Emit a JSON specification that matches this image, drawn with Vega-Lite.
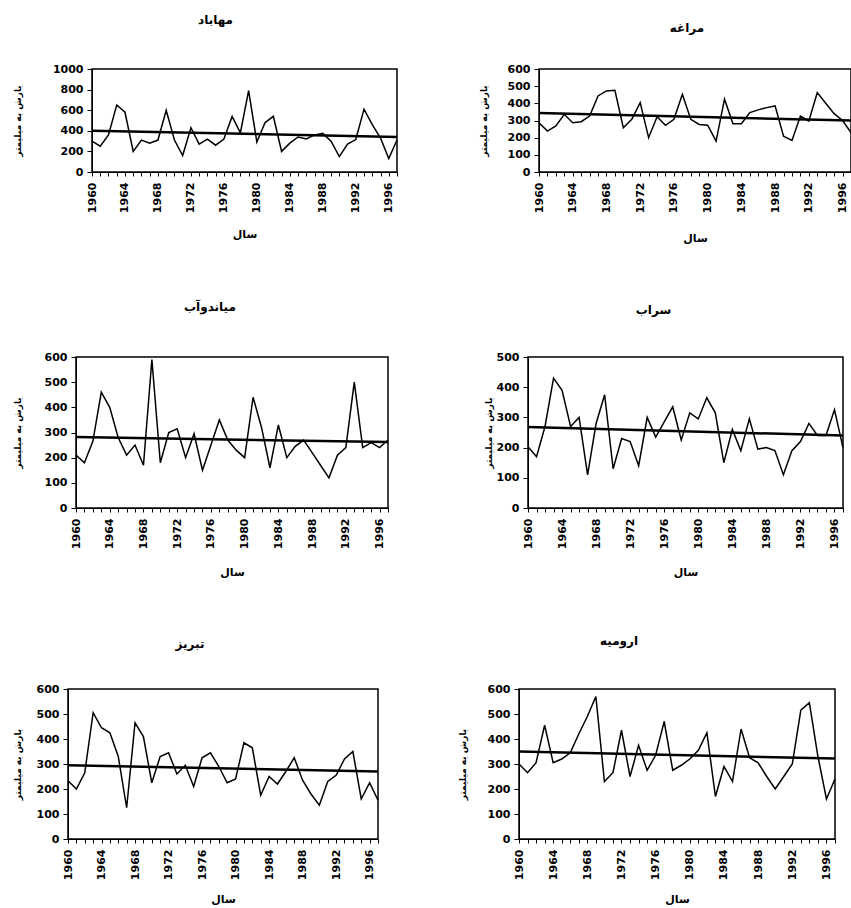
{
  "$schema": "https://vega.github.io/schema/vega-lite/v6.json",
  "background": "white",
  "padding": {"left": 11, "top": 13, "right": 0, "bottom": 0},
  "config": {
    "font": "DejaVu Sans",
    "view": {"stroke": "black", "strokeWidth": 1.5},
    "axis": {"grid": false, "domainColor": "black", "tickColor": "black", "labelColor": "black", "titleColor": "black", "labelFont": "DejaVu Sans", "titleFont": "DejaVu Sans", "labelFontWeight": "bold", "titleFontWeight": "bold", "labelOverlap": false},
    "axisX": {"labelAngle": -90, "labelFontSize": 11, "tickSize": 4, "labelPadding": 6, "labelFlush": false, "titleFontSize": 11, "titlePadding": 16, "format": "d", "labelExpr": "datum.value % 4 === 0 ? datum.label : ''"},
    "axisY": {"labelFontSize": 11, "tickSize": 5, "labelPadding": 4, "titleFontSize": 9, "format": "d"},
    "title": {"fontSize": 12, "fontWeight": "bold", "font": "DejaVu Sans", "color": "black"}
  },
  "datasets": {
    "rain": [
      {"station":"Mahabad","year":1960,"precip":300},{"station":"Mahabad","year":1961,"precip":250},{"station":"Mahabad","year":1962,"precip":360},{"station":"Mahabad","year":1963,"precip":650},{"station":"Mahabad","year":1964,"precip":580},{"station":"Mahabad","year":1965,"precip":200},{"station":"Mahabad","year":1966,"precip":310},{"station":"Mahabad","year":1967,"precip":280},{"station":"Mahabad","year":1968,"precip":310},{"station":"Mahabad","year":1969,"precip":600},
      {"station":"Mahabad","year":1970,"precip":310},{"station":"Mahabad","year":1971,"precip":160},{"station":"Mahabad","year":1972,"precip":430},{"station":"Mahabad","year":1973,"precip":270},{"station":"Mahabad","year":1974,"precip":320},{"station":"Mahabad","year":1975,"precip":260},{"station":"Mahabad","year":1976,"precip":320},{"station":"Mahabad","year":1977,"precip":540},{"station":"Mahabad","year":1978,"precip":380},{"station":"Mahabad","year":1979,"precip":790},
      {"station":"Mahabad","year":1980,"precip":290},{"station":"Mahabad","year":1981,"precip":480},{"station":"Mahabad","year":1982,"precip":540},{"station":"Mahabad","year":1983,"precip":200},{"station":"Mahabad","year":1984,"precip":280},{"station":"Mahabad","year":1985,"precip":340},{"station":"Mahabad","year":1986,"precip":320},{"station":"Mahabad","year":1987,"precip":360},{"station":"Mahabad","year":1988,"precip":375},{"station":"Mahabad","year":1989,"precip":300},
      {"station":"Mahabad","year":1990,"precip":150},{"station":"Mahabad","year":1991,"precip":270},{"station":"Mahabad","year":1992,"precip":315},{"station":"Mahabad","year":1993,"precip":610},{"station":"Mahabad","year":1994,"precip":460},{"station":"Mahabad","year":1995,"precip":330},{"station":"Mahabad","year":1996,"precip":130},{"station":"Mahabad","year":1997,"precip":310},

      {"station":"Maragheh","year":1960,"precip":287},{"station":"Maragheh","year":1961,"precip":238},{"station":"Maragheh","year":1962,"precip":268},{"station":"Maragheh","year":1963,"precip":336},{"station":"Maragheh","year":1964,"precip":287},{"station":"Maragheh","year":1965,"precip":293},{"station":"Maragheh","year":1966,"precip":326},{"station":"Maragheh","year":1967,"precip":443},{"station":"Maragheh","year":1968,"precip":472},{"station":"Maragheh","year":1969,"precip":476},
      {"station":"Maragheh","year":1970,"precip":258},{"station":"Maragheh","year":1971,"precip":307},{"station":"Maragheh","year":1972,"precip":404},{"station":"Maragheh","year":1973,"precip":200},{"station":"Maragheh","year":1974,"precip":322},{"station":"Maragheh","year":1975,"precip":272},{"station":"Maragheh","year":1976,"precip":307},{"station":"Maragheh","year":1977,"precip":453},{"station":"Maragheh","year":1978,"precip":307},{"station":"Maragheh","year":1979,"precip":277},
      {"station":"Maragheh","year":1980,"precip":273},{"station":"Maragheh","year":1981,"precip":180},{"station":"Maragheh","year":1982,"precip":424},{"station":"Maragheh","year":1983,"precip":281},{"station":"Maragheh","year":1984,"precip":281},{"station":"Maragheh","year":1985,"precip":346},{"station":"Maragheh","year":1986,"precip":362},{"station":"Maragheh","year":1987,"precip":375},{"station":"Maragheh","year":1988,"precip":385},{"station":"Maragheh","year":1989,"precip":209},
      {"station":"Maragheh","year":1990,"precip":184},{"station":"Maragheh","year":1991,"precip":326},{"station":"Maragheh","year":1992,"precip":297},{"station":"Maragheh","year":1993,"precip":463},{"station":"Maragheh","year":1994,"precip":400},{"station":"Maragheh","year":1995,"precip":340},{"station":"Maragheh","year":1996,"precip":300},{"station":"Maragheh","year":1997,"precip":230},

      {"station":"Miandoab","year":1960,"precip":210},{"station":"Miandoab","year":1961,"precip":180},{"station":"Miandoab","year":1962,"precip":265},{"station":"Miandoab","year":1963,"precip":460},{"station":"Miandoab","year":1964,"precip":400},{"station":"Miandoab","year":1965,"precip":280},{"station":"Miandoab","year":1966,"precip":210},{"station":"Miandoab","year":1967,"precip":250},{"station":"Miandoab","year":1968,"precip":170},{"station":"Miandoab","year":1969,"precip":590},
      {"station":"Miandoab","year":1970,"precip":180},{"station":"Miandoab","year":1971,"precip":300},{"station":"Miandoab","year":1972,"precip":315},{"station":"Miandoab","year":1973,"precip":200},{"station":"Miandoab","year":1974,"precip":295},{"station":"Miandoab","year":1975,"precip":150},{"station":"Miandoab","year":1976,"precip":250},{"station":"Miandoab","year":1977,"precip":350},{"station":"Miandoab","year":1978,"precip":270},{"station":"Miandoab","year":1979,"precip":230},
      {"station":"Miandoab","year":1980,"precip":200},{"station":"Miandoab","year":1981,"precip":440},{"station":"Miandoab","year":1982,"precip":320},{"station":"Miandoab","year":1983,"precip":160},{"station":"Miandoab","year":1984,"precip":330},{"station":"Miandoab","year":1985,"precip":200},{"station":"Miandoab","year":1986,"precip":245},{"station":"Miandoab","year":1987,"precip":270},{"station":"Miandoab","year":1988,"precip":220},{"station":"Miandoab","year":1989,"precip":170},
      {"station":"Miandoab","year":1990,"precip":120},{"station":"Miandoab","year":1991,"precip":210},{"station":"Miandoab","year":1992,"precip":240},{"station":"Miandoab","year":1993,"precip":500},{"station":"Miandoab","year":1994,"precip":240},{"station":"Miandoab","year":1995,"precip":260},{"station":"Miandoab","year":1996,"precip":240},{"station":"Miandoab","year":1997,"precip":270},

      {"station":"Sarab","year":1960,"precip":203},{"station":"Sarab","year":1961,"precip":170},{"station":"Sarab","year":1962,"precip":270},{"station":"Sarab","year":1963,"precip":430},{"station":"Sarab","year":1964,"precip":390},{"station":"Sarab","year":1965,"precip":270},{"station":"Sarab","year":1966,"precip":300},{"station":"Sarab","year":1967,"precip":110},{"station":"Sarab","year":1968,"precip":280},{"station":"Sarab","year":1969,"precip":375},
      {"station":"Sarab","year":1970,"precip":130},{"station":"Sarab","year":1971,"precip":230},{"station":"Sarab","year":1972,"precip":220},{"station":"Sarab","year":1973,"precip":140},{"station":"Sarab","year":1974,"precip":300},{"station":"Sarab","year":1975,"precip":235},{"station":"Sarab","year":1976,"precip":285},{"station":"Sarab","year":1977,"precip":335},{"station":"Sarab","year":1978,"precip":225},{"station":"Sarab","year":1979,"precip":315},
      {"station":"Sarab","year":1980,"precip":295},{"station":"Sarab","year":1981,"precip":365},{"station":"Sarab","year":1982,"precip":315},{"station":"Sarab","year":1983,"precip":150},{"station":"Sarab","year":1984,"precip":260},{"station":"Sarab","year":1985,"precip":190},{"station":"Sarab","year":1986,"precip":295},{"station":"Sarab","year":1987,"precip":195},{"station":"Sarab","year":1988,"precip":200},{"station":"Sarab","year":1989,"precip":190},
      {"station":"Sarab","year":1990,"precip":110},{"station":"Sarab","year":1991,"precip":190},{"station":"Sarab","year":1992,"precip":220},{"station":"Sarab","year":1993,"precip":280},{"station":"Sarab","year":1994,"precip":240},{"station":"Sarab","year":1995,"precip":240},{"station":"Sarab","year":1996,"precip":325},{"station":"Sarab","year":1997,"precip":200},

      {"station":"Tabriz","year":1960,"precip":233},{"station":"Tabriz","year":1961,"precip":200},{"station":"Tabriz","year":1962,"precip":265},{"station":"Tabriz","year":1963,"precip":505},{"station":"Tabriz","year":1964,"precip":445},{"station":"Tabriz","year":1965,"precip":425},{"station":"Tabriz","year":1966,"precip":330},{"station":"Tabriz","year":1967,"precip":125},{"station":"Tabriz","year":1968,"precip":465},{"station":"Tabriz","year":1969,"precip":410},
      {"station":"Tabriz","year":1970,"precip":225},{"station":"Tabriz","year":1971,"precip":330},{"station":"Tabriz","year":1972,"precip":345},{"station":"Tabriz","year":1973,"precip":260},{"station":"Tabriz","year":1974,"precip":295},{"station":"Tabriz","year":1975,"precip":210},{"station":"Tabriz","year":1976,"precip":325},{"station":"Tabriz","year":1977,"precip":345},{"station":"Tabriz","year":1978,"precip":290},{"station":"Tabriz","year":1979,"precip":225},
      {"station":"Tabriz","year":1980,"precip":240},{"station":"Tabriz","year":1981,"precip":385},{"station":"Tabriz","year":1982,"precip":365},{"station":"Tabriz","year":1983,"precip":175},{"station":"Tabriz","year":1984,"precip":250},{"station":"Tabriz","year":1985,"precip":220},{"station":"Tabriz","year":1986,"precip":270},{"station":"Tabriz","year":1987,"precip":325},{"station":"Tabriz","year":1988,"precip":235},{"station":"Tabriz","year":1989,"precip":180},
      {"station":"Tabriz","year":1990,"precip":135},{"station":"Tabriz","year":1991,"precip":230},{"station":"Tabriz","year":1992,"precip":255},{"station":"Tabriz","year":1993,"precip":320},{"station":"Tabriz","year":1994,"precip":350},{"station":"Tabriz","year":1995,"precip":160},{"station":"Tabriz","year":1996,"precip":225},{"station":"Tabriz","year":1997,"precip":155},

      {"station":"Urmia","year":1960,"precip":300},{"station":"Urmia","year":1961,"precip":265},{"station":"Urmia","year":1962,"precip":305},{"station":"Urmia","year":1963,"precip":455},{"station":"Urmia","year":1964,"precip":305},{"station":"Urmia","year":1965,"precip":320},{"station":"Urmia","year":1966,"precip":345},{"station":"Urmia","year":1967,"precip":420},{"station":"Urmia","year":1968,"precip":490},{"station":"Urmia","year":1969,"precip":570},
      {"station":"Urmia","year":1970,"precip":230},{"station":"Urmia","year":1971,"precip":265},{"station":"Urmia","year":1972,"precip":435},{"station":"Urmia","year":1973,"precip":250},{"station":"Urmia","year":1974,"precip":375},{"station":"Urmia","year":1975,"precip":275},{"station":"Urmia","year":1976,"precip":335},{"station":"Urmia","year":1977,"precip":470},{"station":"Urmia","year":1978,"precip":275},{"station":"Urmia","year":1979,"precip":295},
      {"station":"Urmia","year":1980,"precip":320},{"station":"Urmia","year":1981,"precip":355},{"station":"Urmia","year":1982,"precip":425},{"station":"Urmia","year":1983,"precip":170},{"station":"Urmia","year":1984,"precip":290},{"station":"Urmia","year":1985,"precip":230},{"station":"Urmia","year":1986,"precip":440},{"station":"Urmia","year":1987,"precip":325},{"station":"Urmia","year":1988,"precip":305},{"station":"Urmia","year":1989,"precip":250},
      {"station":"Urmia","year":1990,"precip":200},{"station":"Urmia","year":1991,"precip":250},{"station":"Urmia","year":1992,"precip":300},{"station":"Urmia","year":1993,"precip":515},{"station":"Urmia","year":1994,"precip":545},{"station":"Urmia","year":1995,"precip":330},{"station":"Urmia","year":1996,"precip":160},{"station":"Urmia","year":1997,"precip":240}
    ],
    "trend": [
      {"station":"Mahabad","year":1960,"precip":400},{"station":"Mahabad","year":1997,"precip":340},
      {"station":"Maragheh","year":1960,"precip":343},{"station":"Maragheh","year":1997,"precip":300},
      {"station":"Miandoab","year":1960,"precip":282},{"station":"Miandoab","year":1997,"precip":262},
      {"station":"Sarab","year":1960,"precip":268},{"station":"Sarab","year":1997,"precip":240},
      {"station":"Tabriz","year":1960,"precip":295},{"station":"Tabriz","year":1997,"precip":270},
      {"station":"Urmia","year":1960,"precip":350},{"station":"Urmia","year":1997,"precip":322}
    ]
  },
  "spacing": 55,
  "vconcat": [
    {
      "spacing": 0,
      "hconcat": [
        {"width": 1, "height": 1, "view": {"stroke": null}, "data": {"values": []}, "mark": "point"},
        {
          "spacing": 75,
          "hconcat": [
            {
              "title": {"text": "مهاباد", "offset": 36, "dx": -29},
              "width": 305, "height": 103,
              "encoding": {
                "x": {"field": "year", "type": "quantitative", "scale": {"domain": [1960, 1997], "nice": false, "zero": false},
                      "axis": {"title": "سال", "labelOverlap": false, "values": [1960,1961,1962,1963,1964,1965,1966,1967,1968,1969,1970,1971,1972,1973,1974,1975,1976,1977,1978,1979,1980,1981,1982,1983,1984,1985,1986,1987,1988,1989,1990,1991,1992,1993,1994,1995,1996,1997]}},
                "y": {"field": "precip", "type": "quantitative", "scale": {"domain": [0, 1000], "nice": false},
                      "axis": {"title": "بارش به میلیمتر", "labelOverlap": false, "values": [0,200,400,600,800,1000], "minExtent": 41, "maxExtent": 41, "titlePadding": 29}}
              },
              "layer": [
                {"data": {"name": "rain"}, "transform": [{"filter": "datum.station === 'Mahabad'"}], "mark": {"type": "line", "color": "black", "strokeWidth": 1.5}},
                {"data": {"name": "trend"}, "transform": [{"filter": "datum.station === 'Mahabad'"}], "mark": {"type": "line", "color": "black", "strokeWidth": 2.5}}
              ]
            },
            {
              "title": {"text": "مراغه", "offset": 28, "dx": -8},
              "width": 312, "height": 103,
              "encoding": {
                "x": {"field": "year", "type": "quantitative", "scale": {"domain": [1960, 1997], "nice": false, "zero": false},
                      "axis": {"title": "سال", "titlePadding": 20, "labelOverlap": false, "values": [1960,1961,1962,1963,1964,1965,1966,1967,1968,1969,1970,1971,1972,1973,1974,1975,1976,1977,1978,1979,1980,1981,1982,1983,1984,1985,1986,1987,1988,1989,1990,1991,1992,1993,1994,1995,1996,1997]}},
                "y": {"field": "precip", "type": "quantitative", "scale": {"domain": [0, 600], "nice": false},
                      "axis": {"title": "بارش به میلیمتر", "labelOverlap": false, "values": [0,100,200,300,400,500,600], "minExtent": 33, "maxExtent": 33, "titlePadding": 18}}
              },
              "layer": [
                {"data": {"name": "rain"}, "transform": [{"filter": "datum.station === 'Maragheh'"}], "mark": {"type": "line", "color": "black", "strokeWidth": 1.5}},
                {"data": {"name": "trend"}, "transform": [{"filter": "datum.station === 'Maragheh'"}], "mark": {"type": "line", "color": "black", "strokeWidth": 2.5}}
              ]
            }
          ]
        }
      ]
    },
    {
      "spacing": 0,
      "hconcat": [
        {"width": 1, "height": 1, "view": {"stroke": null}, "data": {"values": []}, "mark": "point"},
        {
          "spacing": 89,
          "hconcat": [
            {
              "title": {"text": "میاندوآب", "offset": 37, "dx": -22},
              "width": 312, "height": 151,
              "encoding": {
                "x": {"field": "year", "type": "quantitative", "scale": {"domain": [1960, 1997], "nice": false, "zero": false},
                      "axis": {"title": "سال", "labelOverlap": false, "titlePadding": 18, "values": [1960,1961,1962,1963,1964,1965,1966,1967,1968,1969,1970,1971,1972,1973,1974,1975,1976,1977,1978,1979,1980,1981,1982,1983,1984,1985,1986,1987,1988,1989,1990,1991,1992,1993,1994,1995,1996,1997]}},
                "y": {"field": "precip", "type": "quantitative", "scale": {"domain": [0, 600], "nice": false},
                      "axis": {"title": "بارش به میلیمتر", "labelOverlap": false, "values": [0,100,200,300,400,500,600], "minExtent": 33, "maxExtent": 33, "titlePadding": 21}}
              },
              "layer": [
                {"data": {"name": "rain"}, "transform": [{"filter": "datum.station === 'Miandoab'"}], "mark": {"type": "line", "color": "black", "strokeWidth": 1.5}},
                {"data": {"name": "trend"}, "transform": [{"filter": "datum.station === 'Miandoab'"}], "mark": {"type": "line", "color": "black", "strokeWidth": 2.5}}
              ]
            },
            {
              "title": {"text": "سراب", "offset": 34, "dx": -32},
              "width": 315, "height": 151,
              "encoding": {
                "x": {"field": "year", "type": "quantitative", "scale": {"domain": [1960, 1997], "nice": false, "zero": false},
                      "axis": {"title": "سال", "labelOverlap": false, "titlePadding": 18, "values": [1960,1961,1962,1963,1964,1965,1966,1967,1968,1969,1970,1971,1972,1973,1974,1975,1976,1977,1978,1979,1980,1981,1982,1983,1984,1985,1986,1987,1988,1989,1990,1991,1992,1993,1994,1995,1996,1997]}},
                "y": {"field": "precip", "type": "quantitative", "scale": {"domain": [0, 500], "nice": false},
                      "axis": {"title": "بارش به میلیمتر", "labelOverlap": false, "values": [0,100,200,300,400,500], "minExtent": 33, "maxExtent": 33, "titlePadding": 2}}
              },
              "layer": [
                {"data": {"name": "rain"}, "transform": [{"filter": "datum.station === 'Sarab'"}], "mark": {"type": "line", "color": "black", "strokeWidth": 1.5}},
                {"data": {"name": "trend"}, "transform": [{"filter": "datum.station === 'Sarab'"}], "mark": {"type": "line", "color": "black", "strokeWidth": 2.5}}
              ]
            }
          ]
        }
      ]
    },
    {
      "spacing": 0,
      "hconcat": [
        {"width": 1, "height": 1, "view": {"stroke": null}, "data": {"values": []}, "mark": "point"},
        {
          "spacing": 73,
          "hconcat": [
            {
              "title": {"text": "تبریز", "offset": 32, "dx": -33},
              "width": 310, "height": 150,
              "encoding": {
                "x": {"field": "year", "type": "quantitative", "scale": {"domain": [1960, 1997], "nice": false, "zero": false},
                      "axis": {"title": "سال", "labelOverlap": false, "titlePadding": 14, "values": [1960,1961,1962,1963,1964,1965,1966,1967,1968,1969,1970,1971,1972,1973,1974,1975,1976,1977,1978,1979,1980,1981,1982,1983,1984,1985,1986,1987,1988,1989,1990,1991,1992,1993,1994,1995,1996,1997]}},
                "y": {"field": "precip", "type": "quantitative", "scale": {"domain": [0, 600], "nice": false},
                      "axis": {"title": "بارش به میلیمتر", "labelOverlap": false, "values": [0,100,200,300,400,500,600], "minExtent": 33, "maxExtent": 33, "titlePadding": 13}}
              },
              "layer": [
                {"data": {"name": "rain"}, "transform": [{"filter": "datum.station === 'Tabriz'"}], "mark": {"type": "line", "color": "black", "strokeWidth": 1.5}},
                {"data": {"name": "trend"}, "transform": [{"filter": "datum.station === 'Tabriz'"}], "mark": {"type": "line", "color": "black", "strokeWidth": 2.5}}
              ]
            },
            {
              "title": {"text": "ارومیه", "offset": 35, "dx": -58},
              "width": 316, "height": 150,
              "encoding": {
                "x": {"field": "year", "type": "quantitative", "scale": {"domain": [1960, 1997], "nice": false, "zero": false},
                      "axis": {"title": "سال", "labelOverlap": false, "titlePadding": 14, "values": [1960,1961,1962,1963,1964,1965,1966,1967,1968,1969,1970,1971,1972,1973,1974,1975,1976,1977,1978,1979,1980,1981,1982,1983,1984,1985,1986,1987,1988,1989,1990,1991,1992,1993,1994,1995,1996,1997]}},
                "y": {"field": "precip", "type": "quantitative", "scale": {"domain": [0, 600], "nice": false},
                      "axis": {"title": "بارش به میلیمتر", "labelOverlap": false, "values": [0,100,200,300,400,500,600], "minExtent": 33, "maxExtent": 33, "titlePadding": 19}}
              },
              "layer": [
                {"data": {"name": "rain"}, "transform": [{"filter": "datum.station === 'Urmia'"}], "mark": {"type": "line", "color": "black", "strokeWidth": 1.5}},
                {"data": {"name": "trend"}, "transform": [{"filter": "datum.station === 'Urmia'"}], "mark": {"type": "line", "color": "black", "strokeWidth": 2.5}}
              ]
            }
          ]
        }
      ]
    }
  ]
}
